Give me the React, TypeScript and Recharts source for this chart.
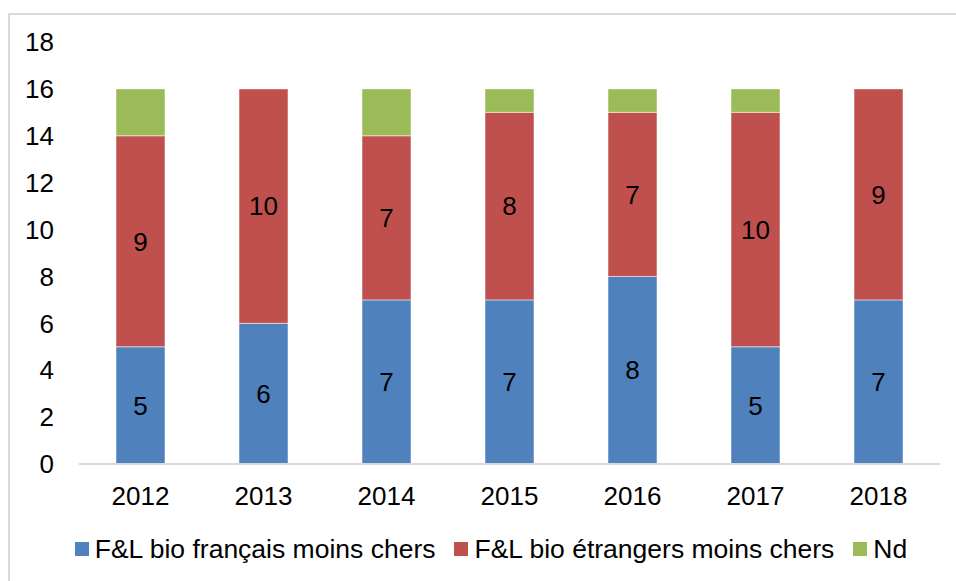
import React from "react";
import { BarChart, Bar, XAxis, YAxis, Legend, LabelList } from "recharts";

const years = ["2012", "2013", "2014", "2015", "2016", "2017", "2018"];
const francais = [5, 6, 7, 7, 8, 5, 7];
const etrangers = [9, 10, 7, 8, 7, 10, 9];
const nd = [2, 0, 2, 1, 1, 1, 0];
const yTicks = [0, 2, 4, 6, 8, 10, 12, 14, 16, 18];

const series = [
  { key: "francais", name: "F&L bio français moins chers", color: "#4F81BD", label: true },
  { key: "etrangers", name: "F&L bio étrangers moins chers", color: "#C0504D", label: true },
  { key: "nd", name: "Nd", color: "#9BBB59", label: false },
];

const data = years.map((year, i) => ({
  year,
  francais: francais[i],
  etrangers: etrangers[i],
  nd: nd[i],
}));

const font = '"Liberation Sans", Arial, sans-serif';

function ChartLegend() {
  return (
    <div
      style={{
        display: "flex",
        justifyContent: "center",
        fontFamily: font,
        fontSize: 26.5,
        lineHeight: "30px",
        height: 30,
        paddingLeft: 32,
        color: "#000",
      }}
    >
      {series.map((s, i) => (
        <div
          key={s.key}
          style={{ display: "flex", alignItems: "center", marginLeft: i === 0 ? 0 : 19 }}
        >
          <span style={{ width: 14, height: 14, background: s.color, display: "inline-block", marginRight: 6 }} />
          <span>{s.name}</span>
        </div>
      ))}
    </div>
  );
}

export default function App() {
  return (
    <div
      style={{
        position: "absolute",
        left: 8,
        top: 13,
        width: 948,
        height: 568,
        borderTop: "2px solid #d9d9d9",
        borderLeft: "2px solid #d9d9d9",
        boxSizing: "border-box",
        background: "#fff",
      }}
    >
      <BarChart
        width={946}
        height={566}
        data={data}
        margin={{ top: 27, right: 16, bottom: 0, left: 0 }}
        style={{ fontFamily: font }}
      >
        <XAxis
          dataKey="year"
          tick={{ fontSize: 26, fill: "#000" }}
          tickLine={false}
          tickSize={0}
          tickMargin={23}
          axisLine={{ stroke: "#d9d9d9", strokeWidth: 2 }}
          height={87}
        />
        <YAxis
          domain={[0, 18]}
          ticks={yTicks}
          tick={{ fontSize: 26, fill: "#000" }}
          tickLine={false}
          tickSize={0}
          tickMargin={25}
          axisLine={false}
          width={69}
        />
        <Legend
          verticalAlign="bottom"
          height={30}
          content={<ChartLegend />}
          wrapperStyle={{ bottom: 17 }}
        />
        {series.map((s) => (
          <Bar
            key={s.key}
            dataKey={s.key}
            name={s.name}
            stackId="a"
            fill={s.color}
            barSize={49}
            stroke="#ffffff"
            strokeOpacity={0.5}
            strokeWidth={1}
            isAnimationActive={false}
          >
            {s.label && (
              <LabelList dataKey={s.key} position="center" fill="#000" fontSize={26} fontFamily={font} />
            )}
          </Bar>
        ))}
      </BarChart>
    </div>
  );
}
